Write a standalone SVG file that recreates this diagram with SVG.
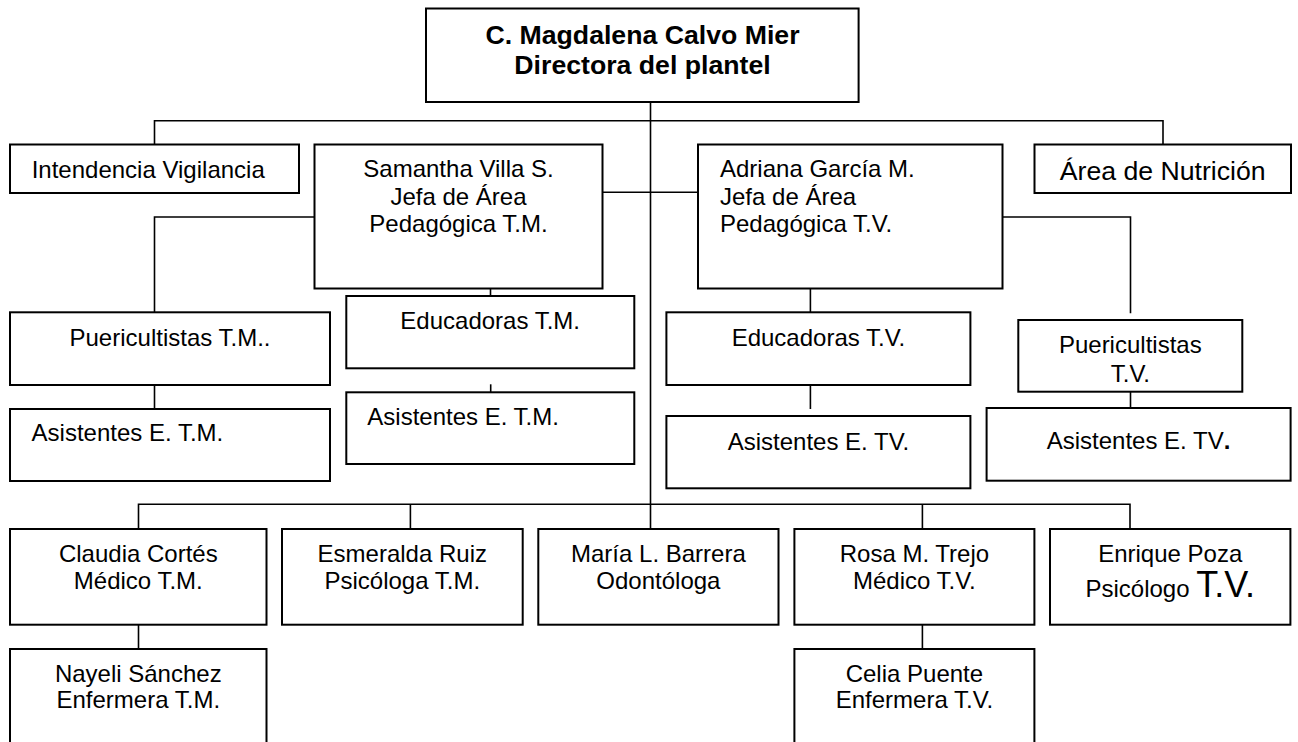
<svg xmlns="http://www.w3.org/2000/svg" width="1298" height="742" viewBox="0 0 1298 742">
<style>
.b{fill:#fff;stroke:#000;stroke-width:2}
.t{font-family:"Liberation Sans",Arial,sans-serif;font-size:24px;fill:#000}
.c{text-anchor:middle}
.bold{font-weight:bold;font-size:26.67px}
.big{font-size:26.67px}
.cn{fill:none;stroke:#000;stroke-width:1.6}
</style>
<rect x="0" y="0" width="1298" height="742" fill="#fff"/>
<g id="connectors">
<path class="cn" d="M650.5 102V529"/>
<path class="cn" d="M154.5 144.5V120.7H1163V144.5"/>
<path class="cn" d="M602.5 192.3H698"/>
<path class="cn" d="M314.5 217H154.5V312.3"/>
<path class="cn" d="M154.5 385V409"/>
<path class="cn" d="M490.5 288.5V296"/>
<path class="cn" d="M490.7 384.3V404"/>
<path class="cn" d="M1002.5 217H1130.5V313.3"/>
<path class="cn" d="M810.4 288.5V312.3"/>
<path class="cn" d="M810.4 385V409"/>
<path class="cn" d="M1130.5 384.3V408"/>
<path class="cn" d="M138.5 529V504.3H1130V529"/>
<path class="cn" d="M410.4 504.3V529"/>
<path class="cn" d="M922.4 504.3V529"/>
<path class="cn" d="M138.5 624.7V649"/>
<path class="cn" d="M922.4 624.7V649"/>
</g>
<g id="n-directora"><rect class="b" x="426" y="8.5" width="432.6" height="93.5"/><text class="t c bold" x="642.5" y="44">C. Magdalena Calvo Mier</text><text class="t c bold" x="642.5" y="73.5">Directora del plantel</text></g>
<g id="n-intendencia"><rect class="b" x="10" y="144.5" width="289" height="48.5"/><text class="t" x="31.7" y="177.7">Intendencia Vigilancia</text></g>
<g id="n-samantha"><rect class="b" x="314.5" y="144.5" width="288" height="144"/><text class="t c" x="458.5" y="177.3">Samantha Villa S.</text><text class="t c" x="458.5" y="204.5">Jefa de Área</text><text class="t c" x="458.5" y="232">Pedagógica T.M.</text></g>
<g id="n-adriana"><rect class="b" x="698" y="144.5" width="304.5" height="144"/><text class="t" x="720" y="177">Adriana García M.</text><text class="t" x="720" y="204.5">Jefa de Área</text><text class="t" x="720" y="232">Pedagógica T.V.</text></g>
<g id="n-nutricion"><rect class="b" x="1034.5" y="144.5" width="256.5" height="48.5"/><text class="t c big" x="1162.7" y="180">Área de Nutrición</text></g>
<g id="n-puer-tm"><rect class="b" x="10" y="312.3" width="320" height="72.7"/><text class="t c" x="170" y="345.7">Puericultistas T.M..</text></g>
<g id="n-asist-tm-1"><rect class="b" x="10" y="409" width="320" height="72"/><text class="t" x="31.6" y="441">Asistentes E. T.M.</text></g>
<g id="n-educ-tm"><rect class="b" x="346.3" y="296" width="288" height="72.3"/><text class="t c" x="490.2" y="329">Educadoras T.M.</text></g>
<g id="n-asist-tm-2"><rect class="b" x="346.3" y="392.3" width="288" height="71.7"/><text class="t" x="367.3" y="425">Asistentes E. T.M.</text></g>
<g id="n-educ-tv"><rect class="b" x="666.4" y="312.3" width="304" height="72.7"/><text class="t c" x="818.4" y="345.7">Educadoras T.V.</text></g>
<g id="n-asist-tv-1"><rect class="b" x="666.4" y="416" width="304" height="72.3"/><text class="t c" x="818.4" y="450">Asistentes E. TV.</text></g>
<g id="n-puer-tv"><rect class="b" x="1018.3" y="320" width="224" height="71.7"/><text class="t c" x="1130.3" y="353.3">Puericultistas</text><text class="t c" x="1130.3" y="381.7">T.V.</text></g>
<g id="n-asist-tv-2"><rect class="b" x="986.6" y="408" width="304" height="72.7"/><text class="t c" x="1138.5" y="449">Asistentes E. TV<tspan font-weight="bold">.</tspan></text></g>
<g id="n-claudia"><rect class="b" x="10" y="529" width="256.5" height="95.7"/><text class="t c" x="138.3" y="561.7">Claudia Cortés</text><text class="t c" x="138.3" y="589">Médico T.M.</text></g>
<g id="n-esmeralda"><rect class="b" x="282" y="529" width="240.7" height="95.7"/><text class="t c" x="402.3" y="561.7">Esmeralda Ruiz</text><text class="t c" x="402.3" y="589">Psicóloga T.M.</text></g>
<g id="n-maria"><rect class="b" x="538.3" y="529" width="240.2" height="95.7"/><text class="t c" x="658.4" y="561.7">María L. Barrera</text><text class="t c" x="658.4" y="589">Odontóloga</text></g>
<g id="n-rosa"><rect class="b" x="794.4" y="529" width="240" height="95.7"/><text class="t c" x="914.4" y="561.7">Rosa M. Trejo</text><text class="t c" x="914.4" y="589">Médico T.V.</text></g>
<g id="n-enrique"><rect class="b" x="1050" y="529" width="240.4" height="95.7"/><text class="t c" x="1170.2" y="562">Enrique Poza</text><text class="t c" x="1170.2" y="597">Psicólogo <tspan font-size="36px">T.V.</tspan></text></g>
<g id="n-nayeli"><rect class="b" x="10" y="649" width="256.5" height="110"/><text class="t c" x="138.3" y="681.7">Nayeli Sánchez</text><text class="t c" x="138.3" y="708.3">Enfermera T.M.</text></g>
<g id="n-celia"><rect class="b" x="794.4" y="649" width="240" height="110"/><text class="t c" x="914.4" y="681.7">Celia Puente</text><text class="t c" x="914.4" y="708.3">Enfermera T.V.</text></g>
</svg>
